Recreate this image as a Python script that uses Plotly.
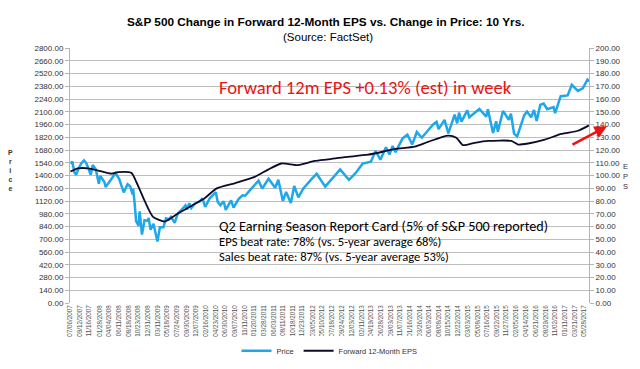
import plotly.graph_objects as go

# ---------------- data ----------------
price_dates = [
    "2007-07-06","2007-07-19","2007-08-03","2007-08-15","2007-08-31","2007-09-19","2007-10-09","2007-10-26","2007-11-26","2007-12-10","2007-12-31",
    "2008-01-22","2008-02-01","2008-02-29","2008-03-10","2008-03-31","2008-05-19","2008-06-13","2008-06-30","2008-07-15","2008-08-11","2008-08-29",
    "2008-09-15","2008-09-19","2008-09-29","2008-10-10","2008-10-27","2008-11-04","2008-11-20","2008-12-08","2008-12-31",
    "2009-01-06","2009-01-20","2009-02-09","2009-03-09","2009-03-26","2009-04-20","2009-05-08","2009-05-29","2009-06-12","2009-07-08","2009-07-31",
    "2009-08-28","2009-09-22","2009-10-02","2009-10-19","2009-11-02","2009-11-30","2009-12-31",
    "2010-01-19","2010-02-08","2010-03-12","2010-04-23","2010-05-07","2010-05-25","2010-06-18","2010-07-02","2010-08-09","2010-08-26","2010-09-30",
    "2010-10-29","2010-11-16","2010-12-31",
    "2011-02-18","2011-03-16","2011-04-29","2011-06-15","2011-07-07","2011-08-08","2011-08-31","2011-10-03","2011-10-27","2011-11-25","2011-12-30",
    "2012-02-29","2012-04-02","2012-06-01","2012-07-31","2012-09-14","2012-11-15","2012-12-31",
    "2013-02-19","2013-04-18","2013-05-21","2013-06-24","2013-08-02","2013-08-27","2013-09-18","2013-10-08","2013-11-27","2013-12-31",
    "2014-02-03","2014-03-07","2014-04-11","2014-06-30","2014-07-24","2014-08-07","2014-09-18","2014-10-15","2014-11-28","2014-12-16","2014-12-29",
    "2015-01-15","2015-02-25","2015-03-11","2015-05-21","2015-07-08","2015-07-20","2015-08-25","2015-09-16","2015-09-28","2015-11-03","2015-12-14","2015-12-29",
    "2016-01-20","2016-02-11","2016-03-31","2016-04-20","2016-05-19","2016-06-08","2016-06-27","2016-07-22","2016-08-15","2016-09-09","2016-10-24",
    "2016-11-04","2016-11-30","2016-12-13",
    "2017-01-31","2017-03-01","2017-04-13","2017-05-17","2017-06-19","2017-06-30",
]
price_values = [
    1530,1553,1433,1407,1474,1529,1565,1535,1407,1515,1468,
    1310,1395,1331,1273,1323,1426,1360,1280,1214,1305,1283,
    1193,1255,1106,899,848,1005,752,909,903,
    935,805,870,676,832,832,929,919,946,880,987,
    1029,1071,1025,1097,1042,1096,1115,
    1150,1056,1150,1217,1110,1074,1117,1022,1127,1047,1141,
    1183,1178,1258,
    1343,1256,1364,1265,1353,1119,1219,1099,1285,1159,1258,
    1366,1419,1278,1379,1466,1353,1426,
    1530,1552,1669,1573,1709,1630,1725,1656,1807,1848,
    1741,1878,1815,1960,1988,1909,2011,1862,2068,1972,2090,
    1992,2115,2040,2131,2046,2128,1867,1996,1881,2109,2012,2078,
    1859,1829,2060,2102,2040,2119,2000,2175,2190,2128,2151,
    2085,2199,2271,
    2279,2396,2329,2357,2453,2433,
]

eps_dates = [
    "2007-07-06","2007-08-28","2007-11-07","2008-01-16","2008-04-19","2008-06-05","2008-09-06","2008-10-11","2008-12-09",
    "2009-02-06","2009-04-29","2009-05-22","2009-08-01","2009-11-26","2010-02-04","2010-04-27","2010-09-03","2011-01-22",
    "2011-04-26","2011-07-28","2011-11-23","2012-03-19","2012-06-21","2012-10-16","2013-03-29","2013-10-03","2014-02-20",
    "2014-05-25","2014-10-13","2014-12-10","2015-01-26","2015-04-18","2015-07-21","2016-01-01","2016-02-17","2016-04-27",
    "2016-08-23","2016-12-17","2017-04-14","2017-06-30",
]
eps_values = [
    103.1,105.6,105.6,103.9,101.4,102.6,102.1,95.1,80.1,
    67.6,63.9,65.0,70.2,77.7,82.2,89.7,93.9,98.9,
    104.6,109.4,108.1,111.4,112.6,114.4,116.3,120.6,122.6,
    126.4,131.3,129.6,123.8,125.6,127.1,127.1,124.3,125.1,
    128.1,132.6,135.1,139.3,
]

tick_labels = [
    "07/06/2007","09/12/2007","11/16/2007","01/28/2008","04/04/2008","06/11/2008","08/18/2008","10/23/2008","12/31/2008",
    "03/11/2009","05/18/2009","07/24/2009","09/30/2009","12/07/2009","02/16/2010","04/23/2010","06/30/2010","09/07/2010",
    "11/11/2010","01/20/2011","03/28/2011","06/03/2011","08/11/2011","10/18/2011","12/23/2011","03/05/2012","05/10/2012",
    "07/18/2012","09/24/2012","12/03/2012","02/11/2013","04/19/2013","06/28/2013","09/03/2013","11/07/2013","01/16/2014",
    "03/26/2014","06/03/2014","08/08/2014","10/15/2014","12/22/2014","03/03/2015","05/08/2015","07/16/2015","09/22/2015",
    "11/27/2015","02/05/2016","04/14/2016","06/21/2016","08/29/2016","11/02/2016","01/11/2017","03/21/2017","05/28/2017",
]
tick_vals = [f"{s[6:10]}-{s[0:2]}-{s[3:5]}" for s in tick_labels]

# ---------------- figure ----------------
W, H = 640, 369
L, R, T, B = 62, 59, 40, 62
pw, ph = W - L - R, H - T - B

def px(x):
    return (x - L) / pw

def py(y):
    return (H - B - y) / ph

fig = go.Figure()
fig.add_trace(go.Scatter(
    x=price_dates, y=price_values, name="Price", mode="lines",
    line=dict(color="#1ea7ea", width=2.5), yaxis="y",
))
fig.add_trace(go.Scatter(
    x=eps_dates, y=eps_values, name="Forward 12-Month EPS", mode="lines",
    line=dict(color="#0b0b2e", width=1.8, shape="spline", smoothing=0.6), yaxis="y2",
))

tick_font = dict(family="Liberation Sans, Arial, sans-serif", size=8, color="#333333")

fig.update_layout(
    width=W, height=H,
    margin=dict(l=L, r=R, t=T, b=B, pad=0),
    paper_bgcolor="white", plot_bgcolor="white",
    showlegend=True,
    legend=dict(orientation="h", x=0.5, xanchor="center", y=py(357), yanchor="middle",
                font=dict(family="Liberation Sans, Arial, sans-serif", size=7.5, color="#333333"),
                itemwidth=30, tracegroupgap=0),
    xaxis=dict(
        type="date", range=["2007-07-03", "2017-06-30"],
        tickmode="array", tickvals=tick_vals, ticktext=tick_labels, tickangle=-90,
        tickfont=dict(family="Liberation Sans, Arial, sans-serif", size=6.3, color="#555555"),
        showgrid=False, showline=False, zeroline=False, ticks="",
    ),
    yaxis=dict(
        range=[0, 2800], tick0=0, dtick=140, tickformat=".2f",
        showgrid=True, gridcolor="#bdbdbd", gridwidth=1,
        showline=True, linecolor="#b5b5b5", linewidth=1,
        ticks="outside", ticklen=4, tickcolor="#b5b5b5",
        tickfont=tick_font, zeroline=False,
    ),
    yaxis2=dict(
        range=[0, 200], tick0=0, dtick=10, tickformat=".2f",
        overlaying="y", side="right",
        showgrid=False, showline=True, linecolor="#b5b5b5", linewidth=1,
        ticks="outside", ticklen=4, tickcolor="#b5b5b5",
        tickfont=tick_font, zeroline=False,
    ),
)

ann = []
ann.append(dict(text="<b>S&P 500 Change in Forward 12-Month EPS vs. Change in Price: 10 Yrs.</b>",
                x=px(318), y=py(13), xref="paper", yref="paper", showarrow=False,
                xanchor="center", yanchor="middle",
                font=dict(family="Liberation Sans, Arial, sans-serif", size=11.8, color="black")))
ann.append(dict(text="(Source: FactSet)",
                x=px(320), y=py(28), xref="paper", yref="paper", showarrow=False,
                xanchor="center", yanchor="middle",
                font=dict(family="Liberation Sans, Arial, sans-serif", size=11.5, color="black")))
ann.append(dict(text="<b>P<br>r<br>i<br>c<br>e</b>",
                x=px(2), y=py(168), xref="paper", yref="paper", showarrow=False,
                xanchor="center", yanchor="middle",
                font=dict(family="Liberation Sans, Arial, sans-serif", size=7, color="#333333")))
ann.append(dict(text="E<br>P<br>S",
                x=px(617), y=py(175), xref="paper", yref="paper", showarrow=False,
                xanchor="center", yanchor="middle",
                font=dict(family="Liberation Sans, Arial, sans-serif", size=7.5, color="#333333")))
ann.append(dict(text="Forward 12m EPS +0.13% (est) in week",
                x=px(209), y=py(81), xref="paper", yref="paper", showarrow=False,
                xanchor="left", yanchor="middle",
                font=dict(family="Carlito, Lato, sans-serif", size=18.6, color="#ee1111")))
ann.append(dict(text=("<span style='font-size:14.2px'>Q2 Earning Season Report Card (5% of S&P 500 reported)</span><br>"
                      "<span style='font-size:12.6px'>EPS beat rate: 78% (vs. 5-year average 68%)</span><br>"
                      "<span style='font-size:12.6px'>Sales beat rate: 87% (vs. 5-year average 53%)</span>"),
                x=px(209), y=py(242), xref="paper", yref="paper", showarrow=False,
                xanchor="left", yanchor="middle", align="left",
                font=dict(family="Carlito, Lato, sans-serif", size=11.5, color="black")))
ann.append(dict(text="", x=px(599), y=py(122), xref="paper", yref="paper",
                showarrow=True, ax=563 - 599, ay=141 - 122, axref="pixel", ayref="pixel",
                arrowhead=2, arrowsize=1, arrowwidth=2.5, arrowcolor="#ee1111", standoff=0))
fig.update_layout(annotations=ann)

fig.write_html("out.html")
